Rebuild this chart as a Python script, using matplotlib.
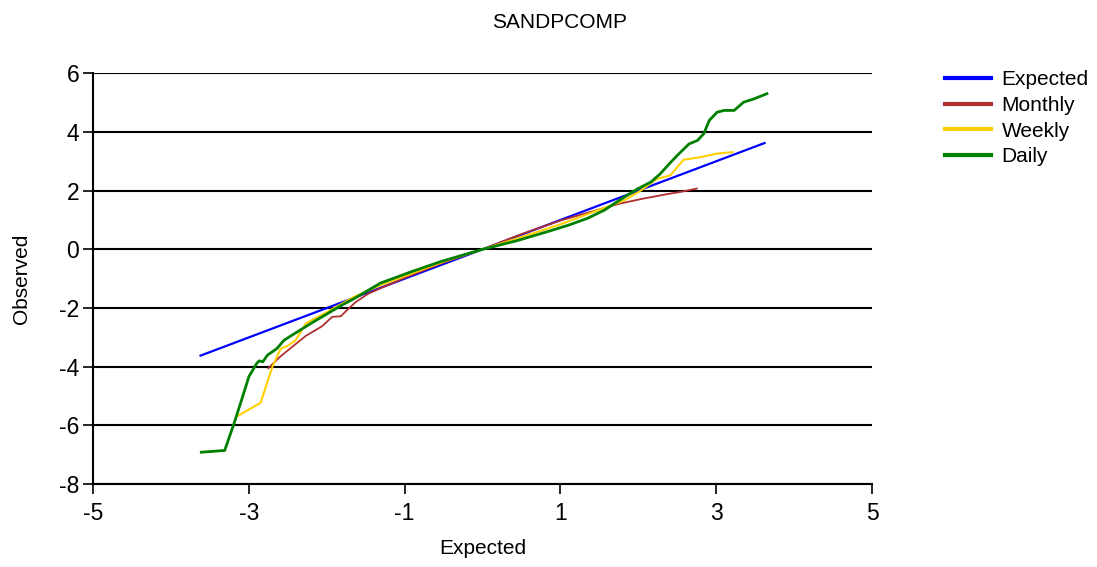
import matplotlib
matplotlib.use("Agg")
from matplotlib import pyplot as plt

# data (x = expected quantile, y = observed)
expected_x = [-3.62, 3.62]
expected_y = [-3.62, 3.62]

monthly_x = [-2.75, -2.6, -2.42, -2.27, -2.06, -1.93, -1.82, -1.74, -1.63, -1.46,
             -1.0, -0.5, 0.0, 0.5, 1.0, 1.5, 1.75, 2.05, 2.35, 2.55, 2.75]
monthly_y = [-4.05, -3.66, -3.27, -2.95, -2.62, -2.3, -2.28, -2.07, -1.8, -1.5,
             -0.97, -0.45, 0.0, 0.52, 0.98, 1.36, 1.55, 1.72, 1.87, 1.96, 2.07]

weekly_x = [-3.16, -2.85, -2.7, -2.63, -2.59, -2.51, -2.4, -2.27, -2.17, -1.99,
            -1.84, -1.65, -1.31, -0.5, 0.0, 0.5, 1.0, 1.5, 1.82, 2.03, 2.24,
            2.41, 2.58, 2.8, 3.01, 3.21]
weekly_y = [-5.7, -5.23, -4.02, -3.6, -3.38, -3.3, -3.1, -2.53, -2.38, -2.13,
            -1.9, -1.62, -1.22, -0.42, 0.0, 0.42, 0.85, 1.35, 1.67, 2.0, 2.4,
            2.52, 3.05, 3.14, 3.26, 3.31]

daily_x = [-3.61, -3.31, -3.19, -3.08, -3.0, -2.9, -2.87, -2.82, -2.76, -2.64,
           -2.55, -2.45, -2.31, -2.17, -1.99, -1.82, -1.65, -1.31, -0.9, -0.54,
           0.0, 0.45, 0.83, 1.1, 1.35, 1.56, 1.82, 1.99, 2.16, 2.28, 2.41, 2.5,
           2.65, 2.76, 2.84, 2.91, 3.01, 3.1, 3.23, 3.35, 3.48, 3.65]
daily_y = [-6.91, -6.85, -5.93, -5.02, -4.34, -3.89, -3.8, -3.83, -3.6, -3.38,
           -3.1, -2.93, -2.7, -2.47, -2.19, -1.92, -1.68, -1.15, -0.75, -0.42,
           0.0, 0.3, 0.6, 0.82, 1.06, 1.33, 1.78, 2.06, 2.29, 2.57, 2.95, 3.2,
           3.59, 3.71, 3.94, 4.39, 4.67, 4.73, 4.73, 5.01, 5.12, 5.3]

x_ticks = [-5, -3, -1, 1, 3, 5]
y_ticks = [-8, -6, -4, -2, 0, 2, 4, 6]

plt.rcParams['font.family'] = ['Liberation Sans', 'DejaVu Sans']
plt.rcParams['axes.unicode_minus'] = False
fs = 15

fig = plt.figure(figsize=(10.97, 5.67), dpi=100)
ax = fig.add_axes([0.0848, 0.146, 0.7102, 0.725])

ax.plot(expected_x, expected_y, color='#0000ff', lw=1.6, label='Expected', zorder=3)
ax.plot(monthly_x, monthly_y, color='#b03030', lw=1.3, label='Monthly', zorder=4)
ax.plot(weekly_x, weekly_y, color='#ffd000', lw=1.5, label='Weekly', zorder=5)
ax.plot(daily_x, daily_y, color='#008000', lw=2.0, label='Daily', zorder=6)

ax.set_xlim(-5, 5)
ax.set_ylim(-8, 6)
ax.set_xticks(x_ticks)
ax.set_yticks(y_ticks)
ax.tick_params(labelsize=16.5, length=7, width=1.2, direction='out')
ax.tick_params(axis='x', pad=6)
ax.tick_params(axis='y', pad=3)
ax.yaxis.grid(True, color='black', lw=1.5)
ax.set_axisbelow(True)
for s in ['top', 'right']:
    ax.spines[s].set_visible(False)
for s in ['left', 'bottom']:
    ax.spines[s].set_linewidth(1.5)

ax.set_xlabel('Expected', fontsize=fs, labelpad=10)
ax.set_ylabel('Observed', fontsize=fs, labelpad=20)
fig.text(0.51, 1 - 22 / 567, 'SANDPCOMP', fontsize=fs, ha='center', va='center')

leg = ax.legend(loc='upper left', bbox_to_anchor=(935 / 1097, 1 - 60 / 567),
                bbox_transform=fig.transFigure, frameon=False, fontsize=fs,
                handlelength=2.2, handletextpad=0.5, labelspacing=0.32, borderpad=0)
for line in leg.get_lines():
    line.set_linewidth(3)

fig.savefig('out.png', dpi=100)
